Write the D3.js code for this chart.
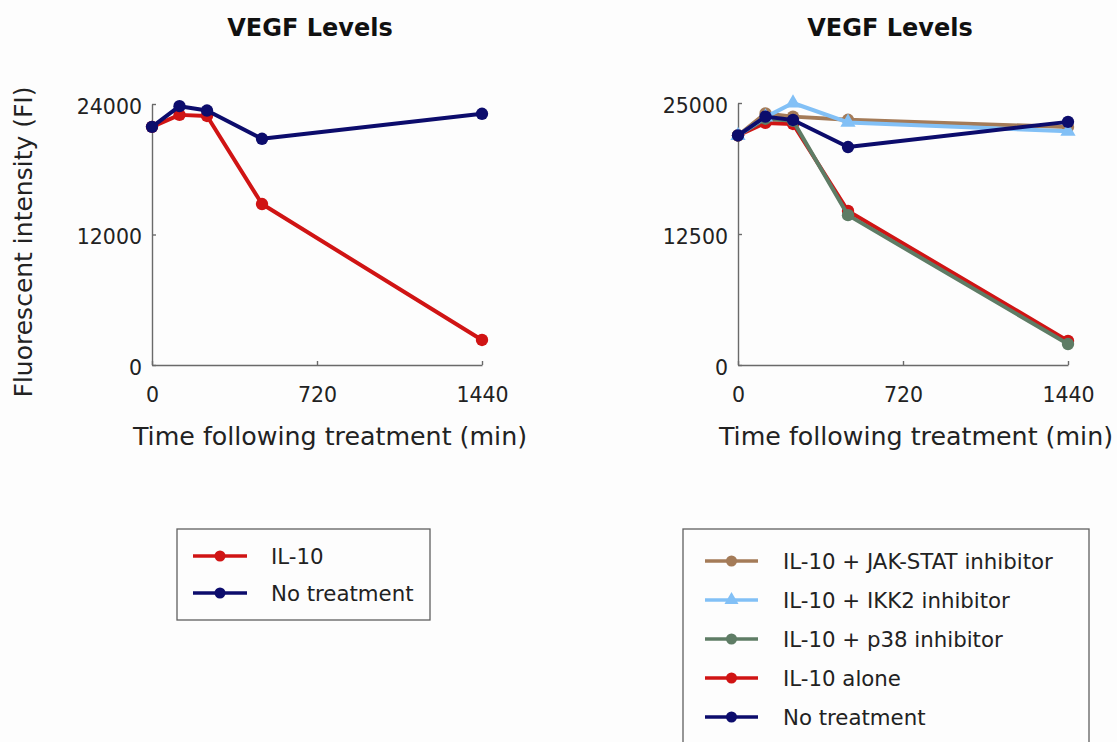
<!DOCTYPE html>
<html>
<head>
<meta charset="utf-8">
<script src="https://cdn.jsdelivr.net/npm/d3@7"></script>
<style>
  body { margin: 0; background: #fdfdfd; }
  svg { display: block; font-family: "DejaVu Sans", Verdana, sans-serif; }
</style>
</head>
<body>
<svg id="chart" width="1117" height="742"></svg>
<script>
// time points (min)
const times = [0, 120, 240, 480, 1440];

// left panel
const il10Left = [21900, 23000, 22900, 14800, 2300];
const noTreatLeft = [21900, 23800, 23400, 20800, 23100];

// right panel
const jakStat = [21900, 24000, 23700, 23400, 22700];
const ikk2 = [21900, 23650, 25000, 23150, 22300];
const p38 = [21900, 23500, 23300, 14300, 2000];
const il10Alone = [21900, 23100, 23000, 14700, 2300];
const noTreatRight = [21900, 23700, 23380, 20800, 23200];

const xTicks = [0, 720, 1440];
const yTicksLeft = [0, 12000, 24000];
const yTicksRight = [0, 12500, 25000];

const colors = {
  red: "#d01414",
  navy: "#0c0c6c",
  brown: "#a47b58",
  lightblue: "#82c0f6",
  green: "#5e7c65"
};

const svg = d3.select("#chart");
svg.append("rect").attr("width", 1117).attr("height", 742).attr("fill", "#fdfdfd");

function drawPanel(opts) {
	const x = d3.scaleLinear().domain([0, 1440]).range([opts.left, opts.left + 330]);
	const y = d3.scaleLinear().domain([0, opts.yMax]).range([365, opts.top]);

	const g = svg.append("g");

	g.append("g")
		.attr("class", "x-axis")
		.attr("transform", `translate(0,365)`)
		.call(d3.axisBottom(x).tickValues(xTicks).tickSizeInner(-4).tickSizeOuter(0).tickPadding(22).tickFormat(d3.format("d")));
	g.append("g")
		.attr("class", "y-axis")
		.attr("transform", `translate(${opts.left},0)`)
		.call(d3.axisLeft(y).tickValues(opts.yTicks).tickSizeInner(-4).tickSizeOuter(0).tickPadding(10).tickFormat(d3.format("d")));

	g.selectAll(".domain, .tick line").attr("stroke", "#6a6a6a").attr("stroke-width", 1.4);
	g.selectAll(".tick text").attr("font-size", 20.5).attr("fill", "#222").attr("font-family", "DejaVu Sans, sans-serif");
	g.selectAll(".y-axis .tick text").attr("dy", "0.45em");

	g.append("text")
		.attr("x", opts.titleX).attr("y", 36)
		.attr("text-anchor", "middle")
		.attr("font-size", 24).attr("font-weight", "bold").attr("fill", "#111")
		.text("VEGF Levels");

	g.append("text")
		.attr("x", opts.left + 178).attr("y", 445)
		.attr("text-anchor", "middle")
		.attr("font-size", 25.3).attr("fill", "#222")
		.text("Time following treatment (min)");

	const line = d3.line().x((d, i) => x(times[i])).y(d => y(d));

	opts.series.forEach(s => {
		g.append("path")
			.datum(s.values)
			.attr("fill", "none")
			.attr("stroke", s.color)
			.attr("stroke-width", 4)
			.attr("stroke-linejoin", "round")
			.attr("d", line);
		const sym = s.marker === "triangle" ? d3.symbolTriangle : d3.symbolCircle;
		g.selectAll(null)
			.data(s.values)
			.enter()
			.append("path")
			.attr("transform", (d, i) => `translate(${x(times[i])},${y(d)})`)
			.attr("d", d3.symbol().type(sym).size(s.marker === "triangle" ? 100 : 120))
			.attr("fill", s.color);
	});
}

drawPanel({
	left: 152, top: 104, yMax: 24000, yTicks: yTicksLeft, titleX: 310,
	series: [
		{ values: il10Left, color: colors.red },
		{ values: noTreatLeft, color: colors.navy }
	]
});

drawPanel({
	left: 738, top: 103, yMax: 25000, yTicks: yTicksRight, titleX: 890,
	series: [
		{ values: il10Alone, color: colors.red },
		{ values: p38, color: colors.green },
		{ values: jakStat, color: colors.brown },
		{ values: ikk2, color: colors.lightblue, marker: "triangle" },
		{ values: noTreatRight, color: colors.navy }
	]
});

// y label (left panel only)
svg.append("text")
	.attr("transform", "translate(32,242) rotate(-90)")
	.attr("text-anchor", "middle")
	.attr("font-size", 25).attr("fill", "#222")
	.text("Fluorescent intensity (FI)");

// legends
function drawLegend(box, items, lineX, textX, rowY) {
	const lg = svg.append("g");
	lg.append("rect")
		.attr("x", box.x).attr("y", box.y).attr("width", box.w).attr("height", box.h)
		.attr("fill", "#fdfdfd").attr("stroke", "#606060").attr("stroke-width", 1.3);
	items.forEach((it, i) => {
		const yy = rowY[i];
		lg.append("line")
			.attr("x1", lineX[0]).attr("x2", lineX[1]).attr("y1", yy).attr("y2", yy)
			.attr("stroke", it.color).attr("stroke-width", 3.5);
		const sym = it.marker === "triangle" ? d3.symbolTriangle : d3.symbolCircle;
		lg.append("path")
			.attr("transform", `translate(${(lineX[0] + lineX[1]) / 2},${yy})`)
			.attr("d", d3.symbol().type(sym).size(it.marker === "triangle" ? 85 : 95))
			.attr("fill", it.color);
		lg.append("text")
			.attr("x", textX).attr("y", yy + 8)
			.attr("font-size", 21.3).attr("fill", "#222")
			.text(it.label);
	});
}

drawLegend({ x: 177, y: 529, w: 253, h: 91 },
	[{ label: "IL-10", color: colors.red }, { label: "No treatment", color: colors.navy }],
	[193, 247], 271, [556, 593]);

drawLegend({ x: 683, y: 529, w: 406, h: 240 },
	[
		{ label: "IL-10 + JAK-STAT inhibitor", color: colors.brown },
		{ label: "IL-10 + IKK2 inhibitor", color: colors.lightblue, marker: "triangle" },
		{ label: "IL-10 + p38 inhibitor", color: colors.green },
		{ label: "IL-10 alone", color: colors.red },
		{ label: "No treatment", color: colors.navy }
	],
	[705, 758], 783, [561, 600, 639, 678, 717]);
</script>
</body>
</html>
